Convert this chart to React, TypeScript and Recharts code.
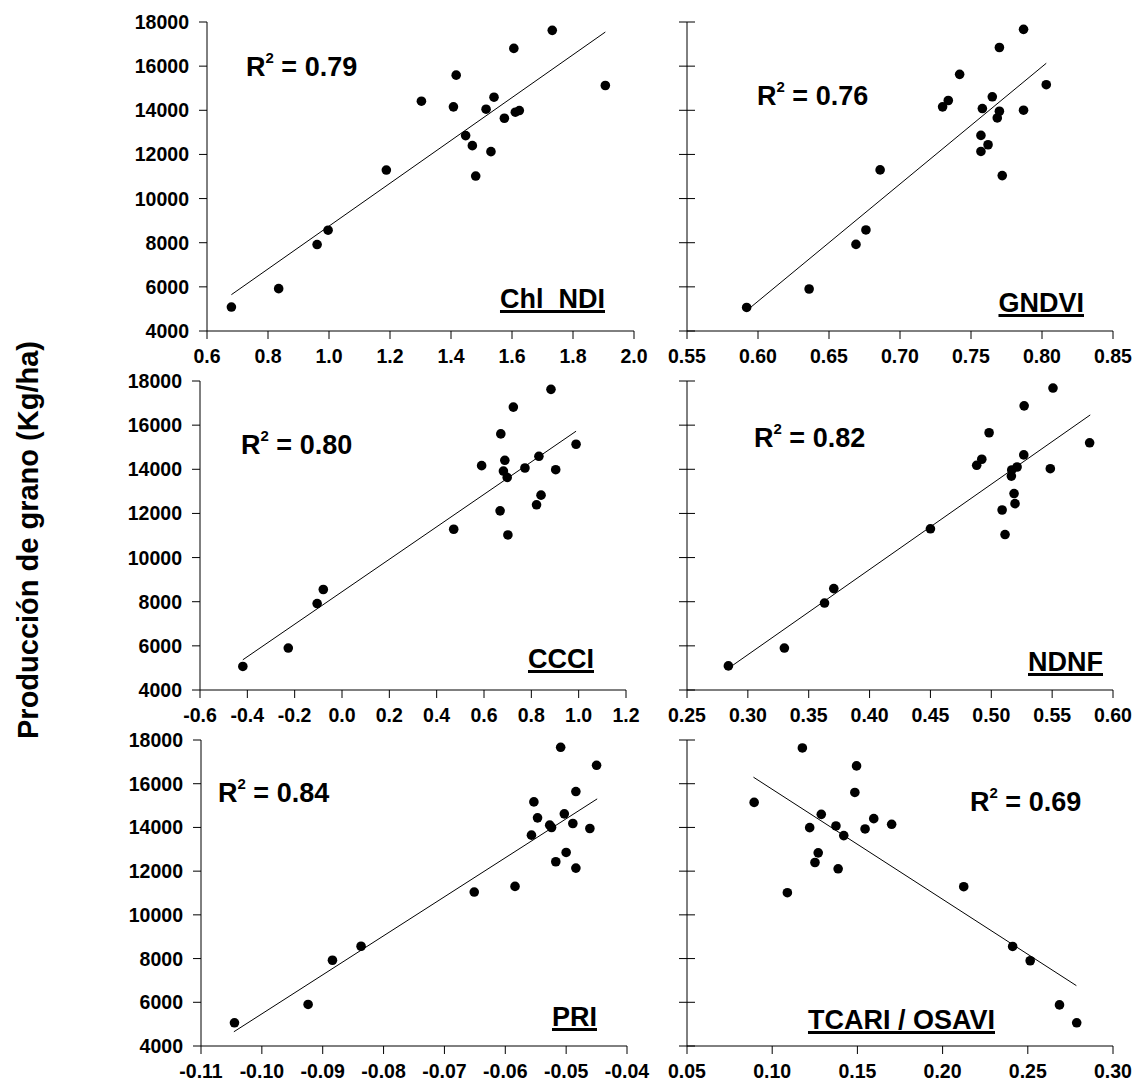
import React from "react";
import { ScatterChart, Scatter, XAxis, YAxis, ReferenceLine } from "recharts";

// grain yield axis (Kg/ha)
const yieldTicks = [4000, 6000, 8000, 10000, 12000, 14000, 16000, 18000];

// Chl_NDI
const chlX = [0.68, 0.835, 0.961, 0.997, 1.188, 1.303, 1.408, 1.417, 1.448, 1.47, 1.481, 1.515, 1.531, 1.541, 1.575, 1.606, 1.611, 1.624, 1.732, 1.906];
const chlY = [5085, 5918, 7917, 8568, 11293, 14412, 14155, 15593, 12852, 12398, 11020, 14048, 12126, 14593, 13640, 16804, 13912, 13988, 17622, 15123];
const chlFitX = [0.68, 1.906];
const chlFitY = [5646, 17546];
const chlTicks = [0.6, 0.8, 1.0, 1.2, 1.4, 1.6, 1.8, 2.0];

// GNDVI
const gndviX = [0.592, 0.636, 0.669, 0.676, 0.686, 0.73, 0.734, 0.742, 0.757, 0.758, 0.757, 0.762, 0.765, 0.7685, 0.77, 0.77, 0.772, 0.787, 0.787, 0.803];
const gndviY = [5067, 5903, 7924, 8578, 11298, 14155, 14444, 15629, 12863, 14079, 12134, 12438, 14611, 13653, 13957, 16845, 11040, 14003, 17666, 15158];
const gndviFitX = [0.595, 0.803];
const gndviFitY = [5082, 16131];
const gndviTicks = [0.55, 0.6, 0.65, 0.7, 0.75, 0.8, 0.85];

// CCCI
const ccciX = [-0.419, -0.227, -0.105, -0.079, 0.472, 0.59, 0.668, 0.671, 0.682, 0.688, 0.698, 0.701, 0.724, 0.773, 0.822, 0.832, 0.841, 0.883, 0.903, 0.989];
const ccciY = [5066, 5900, 7917, 8553, 11283, 14164, 12117, 15604, 13921, 14406, 13633, 11025, 16817, 14058, 12390, 14588, 12829, 17621, 13982, 15134];
const ccciFitX = [-0.419, 0.989];
const ccciFitY = [5369, 15726];
const ccciTicks = [-0.6, -0.4, -0.2, 0, 0.2, 0.4, 0.6, 0.8, 1.0, 1.2];

// NDNF
const ndnfX = [0.284, 0.33, 0.363, 0.3706, 0.45, 0.488, 0.4922, 0.4982, 0.5089, 0.5113, 0.5165, 0.5168, 0.5187, 0.5195, 0.5212, 0.5267, 0.527, 0.5485, 0.5507, 0.5808];
const ndnfY = [5093, 5900, 7939, 8594, 11303, 14180, 14454, 15656, 12155, 11044, 13692, 13967, 12901, 12444, 14104, 14651, 16874, 14027, 17680, 15199];
const ndnfFitX = [0.2869, 0.5813];
const ndnfFitY = [5093, 16463];
const ndnfTicks = [0.25, 0.3, 0.35, 0.4, 0.45, 0.5, 0.55, 0.6];

// PRI
const priX = [-0.1045, -0.0924, -0.0884, -0.0837, -0.0651, -0.0584, -0.0557, -0.0553, -0.0547, -0.0527, -0.0524, -0.0517, -0.0509, -0.0503, -0.05, -0.0489, -0.0484, -0.0484, -0.0461, -0.045];
const priY = [5062, 5900, 7924, 8563, 11044, 11303, 13647, 15169, 14438, 14104, 13997, 12429, 17665, 14621, 12855, 14180, 12140, 15641, 13951, 16843];
const priFitX = [-0.1046, -0.0449];
const priFitY = [4651, 15306];
const priTicks = [-0.11, -0.1, -0.09, -0.08, -0.07, -0.06, -0.05, -0.04];

// TCARI / OSAVI
const tcariX = [0.0894, 0.1089, 0.1177, 0.122, 0.1251, 0.127, 0.1288, 0.1374, 0.1387, 0.142, 0.1485, 0.1495, 0.1545, 0.1596, 0.1701, 0.2124, 0.2411, 0.2514, 0.2686, 0.2787];
const tcariY = [15145, 11014, 17636, 13991, 12396, 12837, 14598, 14067, 12108, 13626, 15601, 16815, 13930, 14401, 14143, 11288, 8554, 7901, 5881, 5061];
const tcariFitX = [0.089, 0.2785];
const tcariFitY = [16299, 6762];
const tcariTicks = [0.05, 0.1, 0.15, 0.2, 0.25, 0.3];

const r2Values = ["0.79", "0.76", "0.80", "0.82", "0.84", "0.69"];
const indexNames = ["Chl_NDI", "GNDVI", "CCCI", "NDNF", "PRI", "TCARI / OSAVI"];

const FONT = "'Liberation Sans', Arial, Helvetica, sans-serif";
const AXIS_W = 90;
const TOP_M = 10;
const RIGHT_M = 32;
const X_AXIS_H = 40;
const TICK_FS = 19.5;

const panels = [
  { xs: chlX, ys: chlY, fx: chlFitX, fy: chlFitY, ticks: chlTicks, dec: 1, left: 207, top: 22, w: 427, h: 309, labelsLeft: true, r2: [246, 77], name: [605, 309] },
  { xs: gndviX, ys: gndviY, fx: gndviFitX, fy: gndviFitY, ticks: gndviTicks, dec: 2, left: 687, top: 22, w: 426, h: 309, labelsLeft: false, r2: [757, 106], name: [1084, 313] },
  { xs: ccciX, ys: ccciY, fx: ccciFitX, fy: ccciFitY, ticks: ccciTicks, dec: 1, left: 200, top: 381, w: 426, h: 309, labelsLeft: true, r2: [241, 455], name: [594, 669] },
  { xs: ndnfX, ys: ndnfY, fx: ndnfFitX, fy: ndnfFitY, ticks: ndnfTicks, dec: 2, left: 687, top: 381, w: 426, h: 309, labelsLeft: false, r2: [754, 448], name: [1103, 672] },
  { xs: priX, ys: priY, fx: priFitX, fy: priFitY, ticks: priTicks, dec: 2, left: 201, top: 740, w: 426, h: 306, labelsLeft: true, r2: [218, 803], name: [597, 1027] },
  { xs: tcariX, ys: tcariY, fx: tcariFitX, fy: tcariFitY, ticks: tcariTicks, dec: 2, left: 687, top: 740, w: 426, h: 306, labelsLeft: false, r2: [970, 812], name: [995, 1030] },
];

// tick crossing the frame line (inside and outside)
function CrossTick(props: any) {
  const { x, y } = props;
  return <line x1={x - 8} x2={x + 8} y1={y} y2={y} stroke="#000" strokeWidth={1} />;
}

// bold tick labels drawn explicitly so the size sticks
const makeXTick = (dec: number) => (props: any) => (
  <text
    x={props.x}
    y={props.y}
    dy="0.72em"
    textAnchor="middle"
    fontSize={TICK_FS}
    fontWeight="bold"
    fontFamily={FONT}
    fill="#000"
  >
    {Number(props.payload.value).toFixed(dec)}
  </text>
);

function YTick(props: any) {
  return (
    <text
      x={props.x}
      y={props.y}
      dy="0.36em"
      textAnchor="end"
      fontSize={TICK_FS}
      fontWeight="bold"
      fontFamily={FONT}
      fill="#000"
    >
      {props.payload.value}
    </text>
  );
}

const Dot = (p: any) => <circle cx={p.cx} cy={p.cy} r={4.8} fill="#000" />;

function Panel({ p }: { p: (typeof panels)[number] }) {
  const data = p.xs.map((x, i) => ({ x, y: p.ys[i] }));
  const dom: [number, number] = [p.ticks[0], p.ticks[p.ticks.length - 1]];
  const width = AXIS_W + p.w + RIGHT_M;
  const height = TOP_M + p.h + X_AXIS_H;
  return (
    <div style={{ position: "absolute", left: p.left - AXIS_W, top: p.top - TOP_M }}>
      <ScatterChart width={width} height={height} margin={{ top: TOP_M, right: RIGHT_M, bottom: 0, left: 0 }}>
        <XAxis
          type="number"
          dataKey="x"
          domain={dom}
          ticks={p.ticks}
          interval={0}
          height={X_AXIS_H}
          tickSize={8}
          tickMargin={10}
          axisLine={{ stroke: "#000" }}
          tickLine={{ stroke: "#000" }}
          tick={makeXTick(p.dec)}
        />
        <XAxis xAxisId="top" type="number" orientation="top" domain={dom} height={0} tick={false} tickLine={false} axisLine={{ stroke: "#000" }} />
        {p.labelsLeft ? (
          <YAxis
            type="number"
            dataKey="y"
            domain={[4000, 18000]}
            ticks={yieldTicks}
            interval={0}
            width={AXIS_W}
            tickSize={8}
            tickMargin={10}
            axisLine={{ stroke: "#000" }}
            tickLine={{ stroke: "#000" }}
            tick={YTick}
          />
        ) : (
          <YAxis
            type="number"
            dataKey="y"
            domain={[4000, 18000]}
            ticks={yieldTicks}
            interval={0}
            width={AXIS_W}
            tickSize={0}
            tickMargin={0}
            axisLine={{ stroke: "#000" }}
            tickLine={false}
            tick={CrossTick}
          />
        )}
        <YAxis
          yAxisId="right"
          type="number"
          orientation="right"
          domain={[4000, 18000]}
          ticks={yieldTicks}
          interval={0}
          width={0}
          tickSize={0}
          tickMargin={0}
          axisLine={{ stroke: "#000" }}
          tickLine={false}
          tick={p.labelsLeft ? CrossTick : false}
        />
        <ReferenceLine
          segment={[
            { x: p.fx[0], y: p.fy[0] },
            { x: p.fx[1], y: p.fy[1] },
          ]}
          stroke="#000"
          strokeWidth={1}
        />
        <Scatter data={data} shape={Dot} isAnimationActive={false} />
      </ScatterChart>
    </div>
  );
}

export default function App() {
  const fs = 27;
  const base = 0.8465 * fs;
  return (
    <div
      style={{
        position: "absolute",
        left: 0,
        top: 0,
        width: 1147,
        height: 1085,
        overflow: "hidden",
        background: "#fff",
        fontFamily: FONT,
        color: "#000",
      }}
    >
      <svg width={70} height={1085} style={{ position: "absolute", left: 0, top: 0 }}>
        <text
          x={38}
          y={540}
          transform="rotate(-90 38 540)"
          textAnchor="middle"
          fontSize={29}
          fontWeight="bold"
          fontFamily={FONT}
          fill="#000"
        >
          Producción de grano (Kg/ha)
        </text>
      </svg>
      {panels.map((p, i) => (
        <Panel key={i} p={p} />
      ))}
      {panels.map((p, i) => (
        <div
          key={"r" + i}
          style={{
            position: "absolute",
            left: p.r2[0],
            top: p.r2[1] - base,
            fontSize: fs,
            lineHeight: 1,
            fontWeight: "bold",
            whiteSpace: "nowrap",
          }}
        >
          R<span style={{ fontSize: 15, verticalAlign: 13, lineHeight: 0 }}>2</span> = {r2Values[i]}
        </div>
      ))}
      {panels.map((p, i) => (
        <div
          key={"n" + i}
          style={{
            position: "absolute",
            right: 1147 - p.name[0],
            top: p.name[1] - base,
            fontSize: fs,
            lineHeight: 1,
            fontWeight: "bold",
            whiteSpace: "nowrap",
            textDecoration: "underline",
            textDecorationThickness: "3px",
          }}
        >
          {indexNames[i]}
        </div>
      ))}
    </div>
  );
}
